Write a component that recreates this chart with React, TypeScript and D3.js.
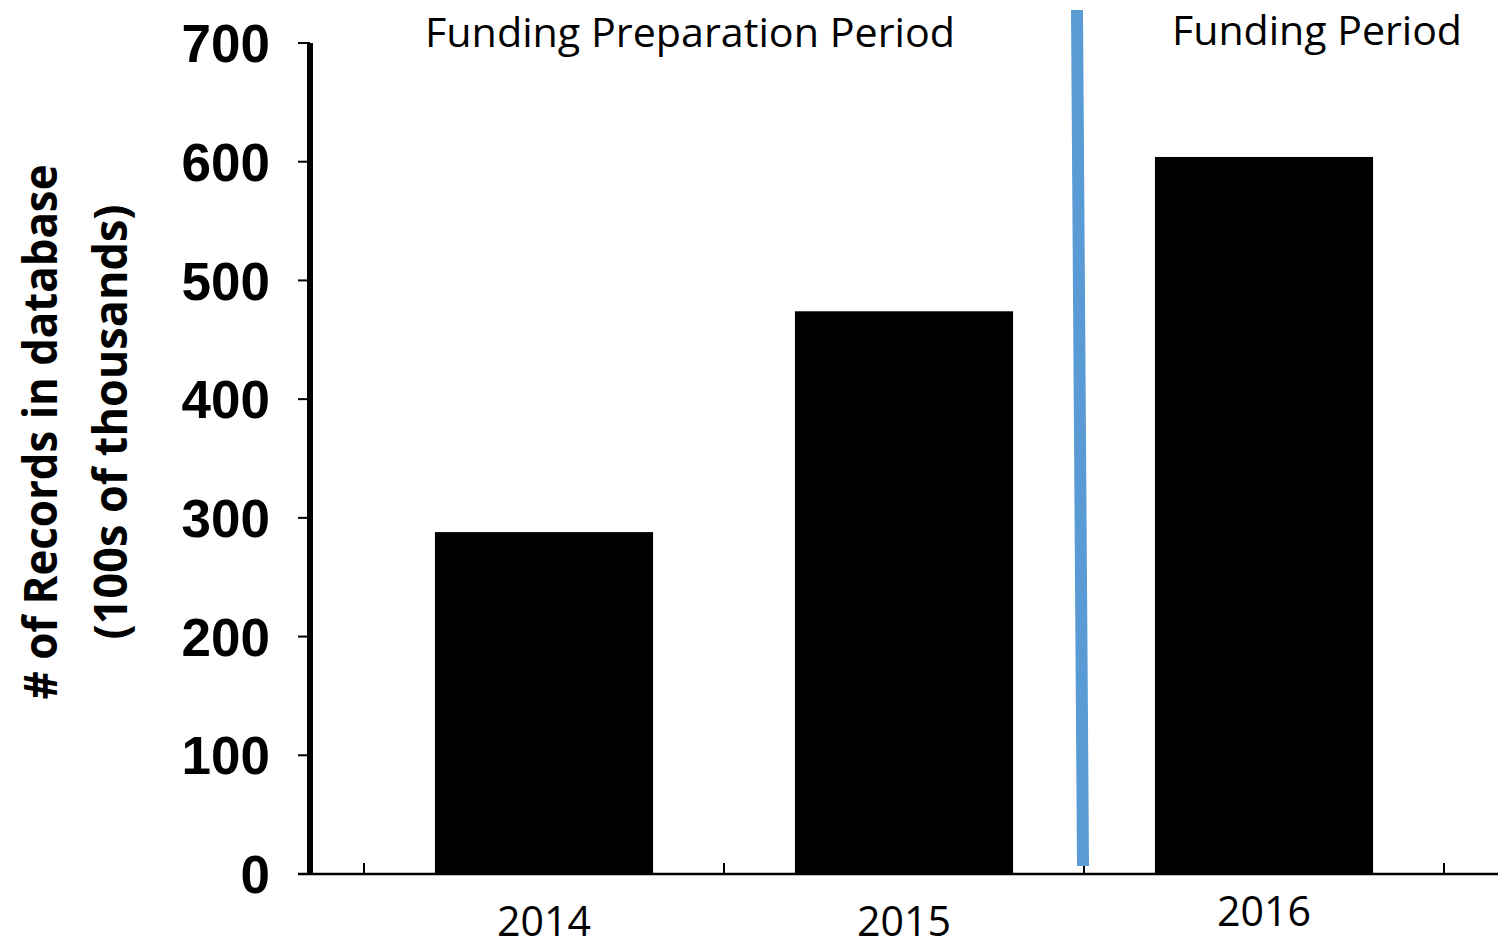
import React, { useEffect, useRef } from 'react';
import * as d3 from 'd3';

const years = ['2014', '2015', '2016'];
const records = [288, 474, 604];
const yTicks = [0, 100, 200, 300, 400, 500, 600, 700];
const periodLabels = ['Funding Preparation Period', 'Funding Period'];
const titleLines = ['# of Records in database', '(100s of thousands)'];

const width = 1498;
const height = 951;
const left = 364;
const right = 1444;
const top = 43;
const bottom = 874;

export default function App() {
    const svgRef = useRef<SVGSVGElement>(null);

    useEffect(() => {
        const svg = d3.select(svgRef.current);
        svg.selectAll('*').remove();

        const x = d3.scaleBand()
            .domain(years)
            .range([left, right])
            .paddingInner(0.394)
            .paddingOuter(0.197);

        const y = d3.scaleLinear()
            .domain([0, 700])
            .range([bottom, top]);

        const step = x.step();
        const gap = step * x.paddingInner() / 2;

        // bars
        svg.append('g')
            .selectAll('rect')
            .data(records)
            .join('rect')
            .attr('x', (d, i) => x(years[i]))
            .attr('y', d => y(d))
            .attr('width', x.bandwidth())
            .attr('height', d => y(0) - y(d))
            .attr('fill', '#000');

        // x axis line + inner ticks at band edges
        svg.append('line')
            .attr('x1', 298).attr('x2', width)
            .attr('y1', y(0)).attr('y2', y(0))
            .attr('stroke', '#000').attr('stroke-width', 2.5);

        const edges = years.map(yr => x(yr) - gap).concat([x(years[years.length - 1]) + x.bandwidth() + gap]);
        svg.append('g')
            .selectAll('line')
            .data(edges)
            .join('line')
            .attr('x1', d => d).attr('x2', d => d)
            .attr('y1', y(0)).attr('y2', y(0) - 11)
            .attr('stroke', '#000').attr('stroke-width', 2);

        svg.append('g')
            .selectAll('text')
            .data(years)
            .join('text')
            .attr('x', d => x(d) + x.bandwidth() / 2)
            .attr('y', (d, i) => i === 2 ? 926 : 936)
            .attr('text-anchor', 'middle')
            .attr('font-family', '"Open Sans", sans-serif')
            .attr('font-size', 42)
            .attr('textLength', 94)
            .attr('lengthAdjust', 'spacingAndGlyphs')
            .attr('fill', '#000')
            .text(d => d);

        // y axis
        svg.append('line')
            .attr('x1', 310).attr('x2', 310)
            .attr('y1', y(700)).attr('y2', y(0))
            .attr('stroke', '#000').attr('stroke-width', 6);

        svg.append('g')
            .selectAll('line')
            .data(yTicks)
            .join('line')
            .attr('x1', 298).attr('x2', 310)
            .attr('y1', d => y(d)).attr('y2', d => y(d))
            .attr('stroke', '#000').attr('stroke-width', 2);

        svg.append('g')
            .selectAll('text')
            .data(yTicks)
            .join('text')
            .attr('x', 270)
            .attr('y', d => y(d))
            .attr('dy', '0.36em')
            .attr('text-anchor', 'end')
            .attr('font-family', '"Liberation Sans", Arial, sans-serif')
            .attr('font-weight', 'bold')
            .attr('font-size', 53)
            .attr('fill', '#000')
            .text(d => d);

        // y title
        const titleX = [57, 127];
        const titleLen = [535, 435];
        const titleMid = [432, 422];
        svg.append('g')
            .selectAll('text')
            .data(titleLines)
            .join('text')
            .attr('transform', (d, i) => `translate(${titleX[i]},${titleMid[i]}) rotate(-90)`)
            .attr('text-anchor', 'middle')
            .attr('font-family', '"Open Sans", sans-serif')
            .attr('font-weight', 'bold')
            .attr('font-size', 46)
            .attr('textLength', (d, i) => titleLen[i])
            .attr('lengthAdjust', 'spacingAndGlyphs')
            .attr('fill', '#000')
            .text(d => d);

        // divider between periods
        const divX = x('2016') - gap;
        svg.append('line')
            .attr('x1', divX - 7).attr('y1', 10)
            .attr('x2', divX - 1).attr('y2', 866)
            .attr('stroke', '#5B9BD5').attr('stroke-width', 12);

        // period labels
        const periodX = [690, 1317];
        const periodY = [47, 45];
        const periodLen = [530, 290];
        svg.append('g')
            .selectAll('text')
            .data(periodLabels)
            .join('text')
            .attr('x', (d, i) => periodX[i])
            .attr('y', (d, i) => periodY[i])
            .attr('text-anchor', 'middle')
            .attr('font-family', '"Open Sans", sans-serif')
            .attr('font-size', 41)
            .attr('textLength', (d, i) => periodLen[i])
            .attr('lengthAdjust', 'spacingAndGlyphs')
            .attr('fill', '#000')
            .text(d => d);
    }, []);

    return (
        <svg
            ref={svgRef}
            width={width}
            height={height}
            style={{ position: 'absolute', left: 0, top: 0, background: '#fff' }}
        />
    );
}
